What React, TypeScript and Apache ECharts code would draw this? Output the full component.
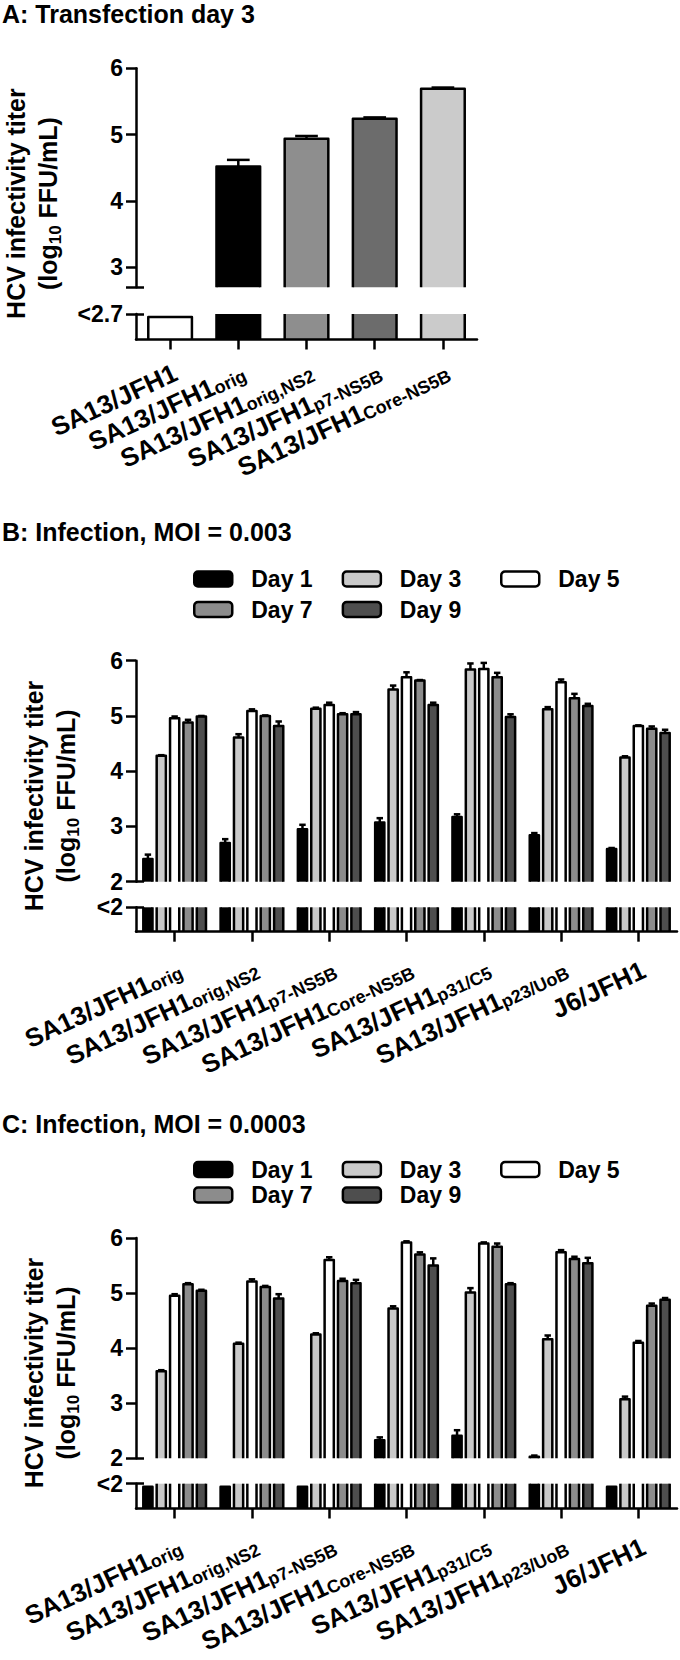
import React, { useEffect, useRef } from "react";
import * as echarts from "echarts";

// ---------- Panel A: Transfection day 3 ----------
const aCategories = ["SA13/JFH1", "SA13/JFH1_orig", "SA13/JFH1_orig,NS2", "SA13/JFH1_p7-NS5B", "SA13/JFH1_Core-NS5B"];
const aValues: (number | null)[] = [null, 4.52, 4.94, 5.24, 5.69];
const aErrors = [0, 0.1, 0.04, 0.02, 0.02];
const aColors = ["#ffffff", "#000000", "#8e8e8e", "#6c6c6c", "#cbcbcb"];
const aLabelTicks = [3, 4, 5, 6];
const aAllTicks = [2.7, 3, 4, 5, 6];
const aMin = 2.7;
const aMax = 6;
const aBelowLabel = "<2.7";

// ---------- Panels B / C: Infection ----------
const bcCategories = [
  "SA13/JFH1_orig",
  "SA13/JFH1_orig,NS2",
  "SA13/JFH1_p7-NS5B",
  "SA13/JFH1_Core-NS5B",
  "SA13/JFH1_p31/C5",
  "SA13/JFH1_p23/UoB",
  "J6/JFH1",
];
const days = ["Day 1", "Day 3", "Day 5", "Day 7", "Day 9"];
const dayColors = ["#000000", "#c9c9c9", "#ffffff", "#8c8c8c", "#4e4e4e"];
const bcMin = 2;
const bcMax = 6;
const bcBelowLabel = "<2";

// B: MOI = 0.003
const bDay1 = [2.41, 2.7, 2.95, 3.07, 3.17, 2.84, 2.59];
const bDay1Err = [0.08, 0.07, 0.08, 0.08, 0.05, 0.04, 0.02];
const bDay3 = [4.28, 4.61, 5.13, 5.48, 5.84, 5.12, 4.25];
const bDay3Err = [0.01, 0.06, 0.02, 0.07, 0.11, 0.04, 0.02];
const bDay5 = [4.96, 5.09, 5.2, 5.7, 5.85, 5.61, 4.82];
const bDay5Err = [0.03, 0.03, 0.04, 0.09, 0.11, 0.05, 0.01];
const bDay7 = [4.88, 5.0, 5.03, 5.64, 5.7, 5.32, 4.77];
const bDay7Err = [0.05, 0.01, 0.02, 0.01, 0.08, 0.08, 0.04];
const bDay9 = [4.99, 4.82, 5.03, 5.2, 4.98, 5.18, 4.69];
const bDay9Err = [0.01, 0.08, 0.04, 0.04, 0.05, 0.04, 0.06];

// C: MOI = 0.0003 (null = below detection limit)
const cDay1: (number | null)[] = [null, null, null, 2.33, 2.41, 2.03, null];
const cDay1Err = [0, 0, 0, 0.05, 0.1, 0.02, 0];
const cDay3 = [3.58, 4.08, 4.25, 4.72, 5.01, 4.16, 3.07];
const cDay3Err = [0.02, 0.02, 0.02, 0.04, 0.08, 0.07, 0.05];
const cDay5 = [4.95, 5.21, 5.6, 5.92, 5.9, 5.74, 4.1];
const cDay5Err = [0.03, 0.04, 0.05, 0.02, 0.02, 0.04, 0.03];
const cDay7 = [5.16, 5.11, 5.22, 5.7, 5.84, 5.62, 4.77];
const cDay7Err = [0.02, 0.02, 0.04, 0.04, 0.06, 0.04, 0.04];
const cDay9 = [5.04, 4.9, 5.18, 5.5, 5.16, 5.54, 4.88];
const cDay9Err = [0.02, 0.08, 0.06, 0.13, 0.02, 0.1, 0.03];

const bValues = [bDay1, bDay3, bDay5, bDay7, bDay9];
const bErrors = [bDay1Err, bDay3Err, bDay5Err, bDay7Err, bDay9Err];
const cValues = [cDay1, cDay3, cDay5, cDay7, cDay9];
const cErrors = [cDay1Err, cDay3Err, cDay5Err, cDay7Err, cDay9Err];

// ---------- styling ----------
const FONT = "'Liberation Sans', Arial, Helvetica, sans-serif";
const LW = 2.5;
const BLACK = "#000000";

const upperRender = (opt: { min: number; offset: number; width: number; cap: number; color?: string; colors?: string[] }) =>
  (params: any, api: any) => {
    const idx = api.value(0);
    const v = api.value(1);
    const e = api.value(2);
    if (v == null || isNaN(v) || v <= opt.min) return null;
    const band = api.size([1, 0])[0];
    const c = api.coord([idx, v]);
    const base = api.coord([idx, opt.min])[1];
    const cx = c[0] + band * opt.offset;
    const w = band * opt.width;
    const x0 = cx - w / 2;
    const x1 = cx + w / 2;
    const top = c[1];
    const color = opt.colors ? opt.colors[idx] : opt.color;
    const children: any[] = [
      { type: "rect", shape: { x: x0, y: top, width: w, height: base - top }, style: { fill: color } },
      {
        type: "polyline",
        shape: { points: [[x0, base], [x0, top], [x1, top], [x1, base]] },
        style: { fill: "none", stroke: BLACK, lineWidth: LW, lineJoin: "round" },
      },
    ];
    if (e > 0) {
      const ye = api.coord([idx, v + e])[1];
      const cw = (w * opt.cap) / 2;
      children.push({ type: "line", shape: { x1: cx, y1: top, x2: cx, y2: ye }, style: { stroke: BLACK, lineWidth: LW } });
      children.push({ type: "line", shape: { x1: cx - cw, y1: ye, x2: cx + cw, y2: ye }, style: { stroke: BLACK, lineWidth: LW } });
    }
    return { type: "group", children };
  };

const lowerRender = (opt: { offset: number; width: number; color?: string; colors?: string[] }) =>
  (params: any, api: any) => {
    const idx = api.value(0);
    const detected = api.value(1) > 0;
    const band = api.size([1, 0])[0];
    const c = api.coord([idx, detected ? 1 : 0.88]);
    const base = api.coord([idx, 0])[1];
    const cx = c[0] + band * opt.offset;
    const w = band * opt.width;
    const x0 = cx - w / 2;
    const x1 = cx + w / 2;
    const top = c[1];
    const color = opt.colors ? opt.colors[idx] : opt.color;
    const children: any[] = [{ type: "rect", shape: { x: x0, y: top, width: w, height: base - top }, style: { fill: color } }];
    if (detected) {
      children.push({ type: "line", shape: { x1: x0, y1: top, x2: x0, y2: base }, style: { stroke: BLACK, lineWidth: LW } });
      children.push({ type: "line", shape: { x1: x1, y1: top, x2: x1, y2: base }, style: { stroke: BLACK, lineWidth: LW } });
    } else {
      children.push({
        type: "polyline",
        shape: { points: [[x0, base], [x0, top], [x1, top], [x1, base]] },
        style: { fill: "none", stroke: BLACK, lineWidth: LW, lineJoin: "round" },
      });
    }
    return { type: "group", children };
  };

const catFormatter = (val: string) => {
  const parts = val.split("_");
  return parts[1] ? `{m|${parts[0]}}{s|${parts[1]}}` : `{m|${parts[0]}}`;
};

const catRich = {
  m: { fontSize: 26, fontWeight: "bold", fontFamily: FONT, color: BLACK },
  s: { fontSize: 18, fontWeight: "bold", fontFamily: FONT, color: BLACK, verticalAlign: "bottom" },
};

const axisLineStyle = { color: BLACK, width: LW };
const tickLabel = { fontSize: 23, fontWeight: "bold", color: BLACK, fontFamily: FONT, margin: 13 };

type PanelGeo = { left: number; width: number; upperTop: number; upperH: number; lowerTop: number; lowerH: number };

function buildAxes(geo: PanelGeo, gi: number, cats: string[], min: number, max: number, belowLabel: string, upperTicks: any, rotate: number, margin: number) {
  const grids = [
    { left: geo.left, top: geo.upperTop, width: geo.width, height: geo.upperH, containLabel: false, outerBoundsMode: "none" },
    { left: geo.left, top: geo.lowerTop, width: geo.width, height: geo.lowerH, containLabel: false, outerBoundsMode: "none" },
  ];
  const xAxes = [
    { type: "category", gridIndex: gi, data: cats, show: false },
    {
      type: "category",
      gridIndex: gi + 1,
      data: cats,
      z: 5,
      axisLine: { show: true, lineStyle: axisLineStyle },
      axisTick: { show: true, alignWithLabel: true, length: 10, lineStyle: axisLineStyle },
      axisLabel: {
        interval: 0,
        rotate,
        margin,
        align: "right",
        verticalAlign: "top",
        formatter: catFormatter,
        rich: catRich,
      },
      splitLine: { show: false },
    },
  ];
  const yAxes = [
    {
      type: "value",
      gridIndex: gi,
      min,
      max,
      ...upperTicks.interval,
      position: "left",
      axisLine: { show: true, lineStyle: axisLineStyle },
      axisTick: { show: true, length: 10, lineStyle: axisLineStyle, ...upperTicks.tick },
      axisLabel: { ...tickLabel, ...upperTicks.label },
      splitLine: { show: false },
    },
    {
      type: "value",
      gridIndex: gi,
      min,
      max,
      position: "left",
      axisLine: { show: false },
      axisLabel: { show: false },
      axisTick: { show: true, inside: true, length: 8, lineStyle: axisLineStyle, customValues: [min] },
      splitLine: { show: false },
    },
    {
      type: "value",
      gridIndex: gi + 1,
      min: 0,
      max: 1,
      position: "left",
      axisLine: { show: true, lineStyle: axisLineStyle },
      axisTick: { show: true, length: 10, lineStyle: axisLineStyle, customValues: [1] },
      axisLabel: { ...tickLabel, customValues: [1], formatter: () => belowLabel },
      splitLine: { show: false },
    },
    {
      type: "value",
      gridIndex: gi + 1,
      min: 0,
      max: 1,
      position: "left",
      axisLine: { show: false },
      axisLabel: { show: false },
      axisTick: { show: true, inside: true, length: 8, lineStyle: axisLineStyle, customValues: [1] },
      splitLine: { show: false },
    },
  ];
  return { grids, xAxes, yAxes };
}

const geoA: PanelGeo = { left: 136, width: 341, upperTop: 68.3, upperH: 219, lowerTop: 314, lowerH: 25.5 };
const geoB: PanelGeo = { left: 136, width: 541, upperTop: 660.7, upperH: 221, lowerTop: 907.3, lowerH: 24.4 };
const geoC: PanelGeo = { left: 136, width: 541, upperTop: 1238, upperH: 220.3, lowerTop: 1483.7, lowerH: 24.8 };

const BC_BAR_W = 0.119;
const BC_PITCH = 0.173;

function legendFor(rowCenters: number[]) {
  const item = (i: number) => ({
    name: days[i],
    icon: "roundRect",
    itemStyle: { color: dayColors[i], borderColor: BLACK, borderWidth: LW },
  });
  const common = {
    orient: "horizontal",
    padding: 0,
    itemWidth: 38,
    itemHeight: 15,
    itemGap: 29,
    selectedMode: false,
    textStyle: { fontSize: 23, fontWeight: "bold", color: BLACK, fontFamily: FONT, padding: [0, 0, 0, 14] },
  };
  return [
    { ...common, left: 193, top: rowCenters[0] - 11.5, data: [item(0), item(1)] },
    { ...common, left: 500, top: rowCenters[0] - 11.5, data: [item(2)] },
    { ...common, left: 193, top: rowCenters[1] - 11.5, data: [item(3), item(4)] },
  ];
}

function yTitle(cx: number, cy: number) {
  return {
    type: "text",
    x: cx,
    y: cy,
    rotation: Math.PI / 2,
    style: {
      text: "{m|HCV infectivity titer}\n{m|(log}{s|10}{m| FFU/mL)}",
      align: "center",
      verticalAlign: "middle",
      fill: BLACK,
      rich: {
        m: { fontSize: 25, fontWeight: "bold", fontFamily: FONT, fill: BLACK, lineHeight: 32 },
        s: { fontSize: 17, fontWeight: "bold", fontFamily: FONT, fill: BLACK, lineHeight: 32, verticalAlign: "bottom" },
      },
    },
  };
}

function panelTitle(text: string, y: number) {
  return {
    type: "text",
    x: 2,
    y,
    style: {
      text,
      fill: BLACK,
      fontSize: 25,
      fontWeight: "bold",
      fontFamily: FONT,
      verticalAlign: "middle",
      align: "left",
    },
  };
}

function buildOption() {
  const ROT = 25;
  const A = buildAxes(geoA, 0, aCategories, aMin, aMax, aBelowLabel, {
    interval: {},
    tick: { customValues: aAllTicks },
    label: { customValues: aLabelTicks },
  }, ROT, 20);
  const B = buildAxes(geoB, 2, bcCategories, bcMin, bcMax, bcBelowLabel, { interval: { interval: 1 }, tick: {}, label: {} }, ROT, 25);
  const C = buildAxes(geoC, 4, bcCategories, bcMin, bcMax, bcBelowLabel, { interval: { interval: 1 }, tick: {}, label: {} }, ROT, 25);

  const series: any[] = [];
  // Panel A
  const aData = aValues.flatMap((v, i) => (v == null ? [] : [[i, v, aErrors[i]]]));
  const aLower = aValues.map((v, i) => [i, v == null ? 0 : 1]);
  series.push({
    type: "custom",
    name: "Transfection",
    xAxisIndex: 0,
    yAxisIndex: 0,
    data: aData,
    renderItem: upperRender({ min: aMin, offset: 0, width: 0.64, cap: 0.52, colors: aColors }),
  });
  series.push({
    type: "custom",
    name: "Transfection",
    xAxisIndex: 1,
    yAxisIndex: 2,
    data: aLower,
    renderItem: lowerRender({ offset: 0, width: 0.64, colors: aColors }),
  });

  const addPanel = (vals: (number | null)[][], errs: number[][], xBase: number, yBase: number) => {
    days.forEach((d, k) => {
      const offset = (k - 2) * BC_PITCH;
      series.push({
        type: "custom",
        name: d,
        xAxisIndex: xBase,
        yAxisIndex: yBase,
        itemStyle: { color: dayColors[k] },
        data: vals[k].flatMap((v, i) => (v == null ? [] : [[i, v, errs[k][i]]])),
        renderItem: upperRender({ min: bcMin, offset, width: BC_BAR_W, cap: 0.7, color: dayColors[k] }),
      });
      series.push({
        type: "custom",
        name: d,
        xAxisIndex: xBase + 1,
        yAxisIndex: yBase + 2,
        itemStyle: { color: dayColors[k] },
        data: vals[k].map((v, i) => [i, v == null ? 0 : 1]),
        renderItem: lowerRender({ offset, width: BC_BAR_W, color: dayColors[k] }),
      });
    });
  };
  addPanel(bValues, bErrors, 2, 4);
  addPanel(cValues, cErrors, 4, 8);

  return {
    animation: false,
    backgroundColor: "#ffffff",
    textStyle: { fontFamily: FONT },
    grid: [...A.grids, ...B.grids, ...C.grids],
    xAxis: [...A.xAxes, ...B.xAxes, ...C.xAxes],
    yAxis: [...A.yAxes, ...B.yAxes, ...C.yAxes],
    legend: [...legendFor([579, 609.5]), ...legendFor([1169.5, 1195])],
    series,
    graphic: [
      panelTitle("A: Transfection day 3", 13.5),
      panelTitle("B: Infection, MOI = 0.003", 532.3),
      panelTitle("C: Infection, MOI = 0.0003", 1124.3),
      yTitle(32, 203.6),
      yTitle(50, 796),
      yTitle(50, 1373),
    ],
  };
}

export default function App() {
  const ref = useRef<HTMLDivElement>(null);
  useEffect(() => {
    if (!ref.current) return;
    const chart = echarts.init(ref.current, null, { renderer: "svg" });
    chart.setOption(buildOption() as any);
    return () => chart.dispose();
  }, []);
  return (
    <div
      ref={ref}
      style={{ position: "absolute", left: 0, top: 0, width: 680, height: 1660, background: "#ffffff" }}
    />
  );
}
